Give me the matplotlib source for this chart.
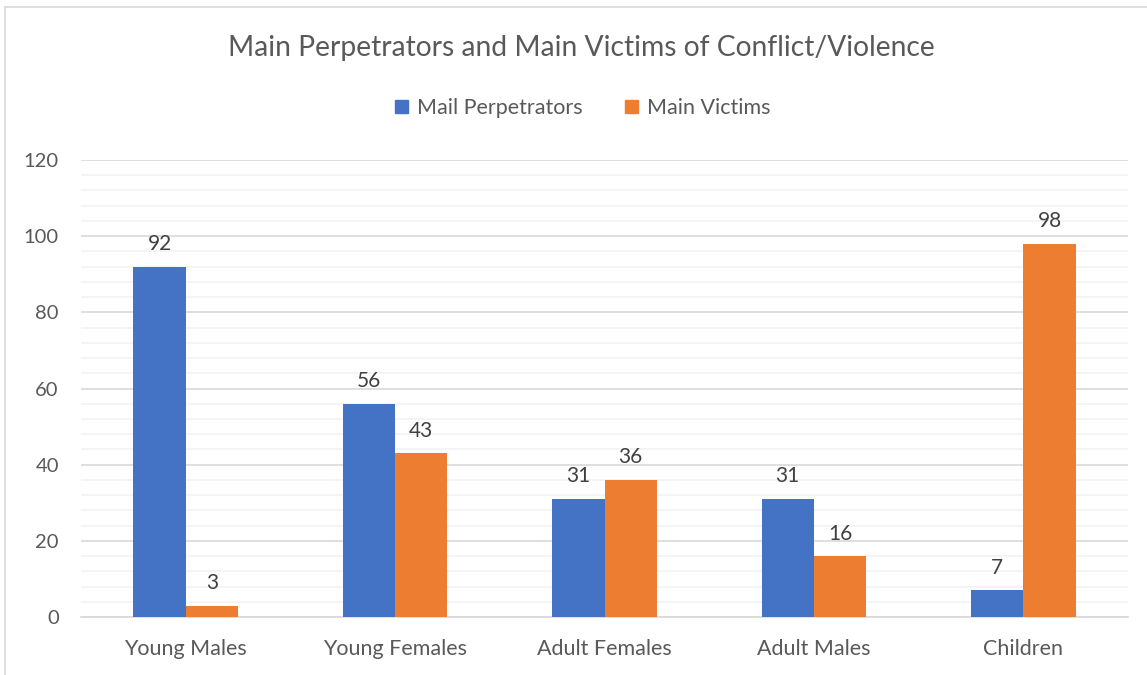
import numpy as np
import matplotlib.pyplot as plt
from matplotlib.lines import Line2D
from matplotlib.patches import Patch

categories = ['Young Males', 'Young Females', 'Adult Females', 'Adult Males', 'Children']
perpetrators = [92, 56, 31, 31, 7]
victims = [3, 43, 36, 16, 98]
series_names = ['Mail Perpetrators', 'Main Victims']

blue = '#4472C4'
orange = '#ED7D31'
text_grey = '#595959'

plt.rcParams['font.family'] = ['Lato', 'DejaVu Sans']

fig = plt.figure(figsize=(11.47, 6.75), dpi=100)
ax = fig.add_axes([81 / 1147, 1 - 617 / 675, 1047 / 1147, 457 / 675])

x = np.arange(len(categories))
w = 0.25
b1 = ax.bar(x - w / 2, perpetrators, w, color=blue, zorder=3)
b2 = ax.bar(x + w / 2, victims, w, color=orange, zorder=3)

for bars in (b1, b2):
    ax.bar_label(bars, padding=9, fontsize=15, color='#404040')

ax.set_xlim(-0.5, len(categories) - 0.5)
ax.set_ylim(0, 120)
ax.set_yticks(np.arange(0, 121, 20))
ax.set_yticks(np.arange(0, 121, 4), minor=True)
ax.grid(axis='y', which='major', color='#D9D9D9', linewidth=1.2, zorder=0)
ax.grid(axis='y', which='minor', color='#F2F2F2', linewidth=1.2, zorder=0)
ax.set_xticks(x)
ax.set_xticklabels(categories)
ax.tick_params(axis='both', which='both', length=0, colors=text_grey)
ax.tick_params(axis='y', labelsize=14.5, pad=16)
ax.tick_params(axis='x', labelsize=15.5, pad=16)
for s in ['top', 'right', 'left']:
    ax.spines[s].set_visible(False)
ax.spines['bottom'].set_color('#D9D9D9')
ax.spines['bottom'].set_linewidth(1.2)

fig.text(0.5065, 1 - 48 / 675, 'Main Perpetrators and Main Victims of Conflict/Violence',
         ha='center', va='center', fontsize=20.3, color=text_grey)

handles = [Patch(color=blue), Patch(color=orange)]
fig.legend(handles, series_names, loc='center', bbox_to_anchor=(0.508, 1 - 108 / 675),
           ncol=2, frameon=False, fontsize=15.5, labelcolor=text_grey,
           handlelength=0.6, handleheight=0.6, handletextpad=0.4, columnspacing=2.0)

# chart border (only top and left visible in the crop)
fig.add_artist(Line2D([5 / 1147, 5 / 1147], [0, 1 - 7 / 675], color='#D9D9D9', linewidth=1.2))
fig.add_artist(Line2D([5 / 1147, 1], [1 - 7 / 675, 1 - 7 / 675], color='#D9D9D9', linewidth=1.2))

fig.savefig('out.png', dpi=100)
